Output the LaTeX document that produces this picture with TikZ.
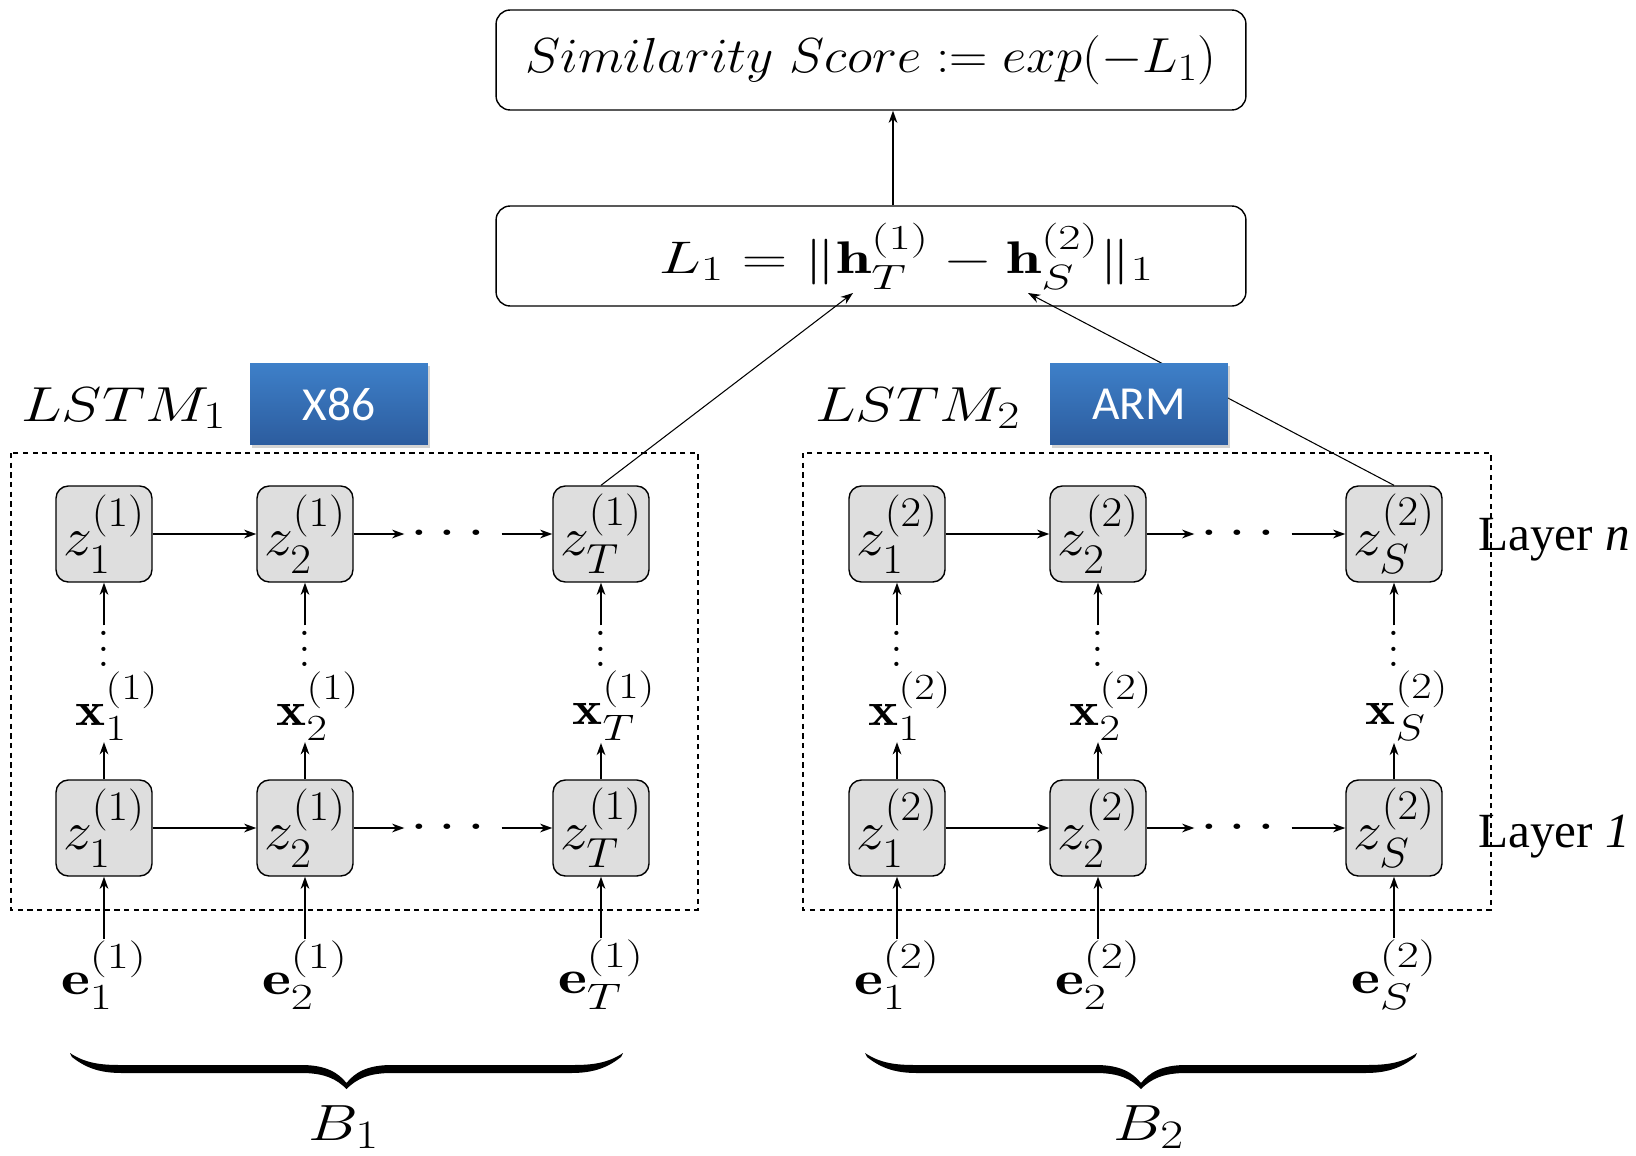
\documentclass[tikz,border=0pt]{standalone}
\usepackage{fix-cm}
\usepackage{amsmath}
\usepackage{amssymb}
\usepackage{graphicx}
\usepackage{fontspec}
\usepackage{xcolor}
\usetikzlibrary{arrows.meta,calc,positioning,shadows}
\newfontfamily\archfont{Carlito}
\newfontfamily\layerfont{Liberation Serif}
\DeclareMathSizes{31}{31}{24}{19}
\DeclareMathSizes{29}{29}{23}{18}
\DeclareMathSizes{28}{28}{22}{17}
\DeclareMathSizes{27}{27}{21}{16}
\DeclareMathSizes{26}{26}{20}{15}
\newcommand{\wide}[2][1.25]{\scalebox{#1}[1]{#2}}
\newcommand{\coldots}{\vbox{\baselineskip=9pt\hbox{.}\hbox{.}\hbox{.}}}
% filled brace from x=#1 to x=#2, ends at height #3
\newcommand{\batchbrace}[3]{%
	\pgfmathsetmacro{\bm}{(#1+#2)/2}
	\fill (#1,#3) .. controls ({#1+15},{#3+10}) and ({#1+30},{#3+12}) .. ({#1+50},{#3+12})
		-- ({\bm-45},{#3+12}) .. controls ({\bm-20},{#3+12}) and ({\bm-8},{#3+20}) .. (\bm,{#3+30})
		.. controls ({\bm+8},{#3+20}) and ({\bm+20},{#3+12}) .. ({\bm+45},{#3+12})
		-- ({#2-50},{#3+12}) .. controls ({#2-30},{#3+12}) and ({#2-15},{#3+10}) .. (#2,#3)
		-- ({#2-2},{#3+4}) .. controls ({#2-17},{#3+16}) and ({#2-32},{#3+20}) .. ({#2-52},{#3+20})
		-- ({\bm+45},{#3+20}) .. controls ({\bm+22},{#3+20}) and ({\bm+10},{#3+26}) .. (\bm,{#3+36})
		.. controls ({\bm-10},{#3+26}) and ({\bm-22},{#3+20}) .. ({\bm-45},{#3+20})
		-- ({#1+52},{#3+20}) .. controls ({#1+32},{#3+20}) and ({#1+17},{#3+16}) .. ({#1+2},{#3+4}) -- cycle;}
\definecolor{cellgray}{RGB}{222,222,222}
\definecolor{archtop}{RGB}{62,128,201}
\definecolor{archbottom}{RGB}{44,92,158}
\tikzset{%
	cell/.style    = {draw, rounded corners=7pt, fill=cellgray, minimum width=1.92cm, minimum height=1.92cm, inner sep=0pt, line width=0.8pt, font=\fontsize{31}{37}\selectfont},
	lossbox/.style = {draw, rounded corners=8pt, minimum width=15cm, minimum height=2cm, line width=0.8pt},
	archbox/.style = {top color=archtop, bottom color=archbottom, minimum width=3.56cm, minimum height=1.64cm, text=white, font=\archfont\fontsize{27}{32}\selectfont, drop shadow={opacity=0.35,shadow xshift=1pt,shadow yshift=-1.5pt}},
	arrow/.style   = {line width=0.8pt,-{Stealth[length=7pt,width=5pt]}},
	link/.style    = {line width=0.6pt,-{Stealth[length=7pt,width=5pt]}},
	frame/.style   = {dashed, line width=0.8pt, dash pattern=on 3pt off 2.5pt},
	vec/.style     = {inner sep=1pt, font=\fontsize{27}{32}\selectfont},
	netname/.style = {anchor=base west, inner sep=0pt, font=\fontsize{28}{33}\selectfont},
	layer/.style   = {anchor=base west, inner sep=0pt, font=\layerfont\fontsize{28}{33}\selectfont},
}

\begin{document}
\begin{tikzpicture}[x=0.02cm, y=-0.02cm, font=\fontsize{29}{34}\selectfont]
	\useasboundingbox (0,0) rectangle (1636,1156);
	
	% loss and score
	\node[lossbox, font=\fontsize{28}{33}\selectfont] (score) at (871,60) {\wide[1.08]{$Similarity\ Score := exp(-L_1)$}};
	\node[lossbox, font=\fontsize{26}{31}\selectfont] (loss) at (871,256) {\hspace*{1.42cm}\wide[1.38]{$L_1 = \|\mathbf{h}_T^{(1)} - \mathbf{h}_S^{(2)}\|_1$}};
	\draw[arrow] ([xshift=0.44cm]loss.north) -- ([xshift=0.44cm]score.south);
	\coordinate (hT) at (853,293);
	\coordinate (hS) at (1028,293);
	
	% first network
	\draw[frame] (11,453) rectangle (698,910);
	\node[netname] (lstm1) at (21,421) {\wide[1.24]{$LSTM_1$}};
	\foreach \c/\x/\s in {1/104/1,2/305/2,3/601/T} {
		\node[cell] (top1\c) at (\x,534) {\wide[1.06]{$z_{\s}^{(1)}$}};
		\node[cell] (bot1\c) at (\x,828) {\wide[1.06]{$z_{\s}^{(1)}$}};
		\node[inner sep=0pt] (vd1\c) at (\x,649) {\coldots};
		\node[vec] (x1\c) at (\x+13,706) {\wide[1.2]{$\mathbf{x}_{\s}^{(1)}$}};
		\node[vec] (e1\c) at (\x,975) {\wide[1.3]{$\mathbf{e}_{\s}^{(1)}$}};
		\draw[arrow] (bot1\c) -- (bot1\c.north |- x1\c.south);
		\draw[arrow] ([yshift=3pt]vd1\c.north) -- (top1\c);
		\draw[arrow] (e1\c) -- (bot1\c);
	}
	\node (dt1) at (453,534) {\wide{$\cdots$}};
	\node (db1) at (453,828) {\wide{$\cdots$}};
	\draw[arrow] (top11) -- (top12);
	\draw[arrow] (top12) -- (dt1);
	\draw[arrow] (dt1) -- (top13);
	\draw[arrow] (bot11) -- (bot12);
	\draw[arrow] (bot12) -- (db1);
	\draw[arrow] (db1) -- (bot13);
	
	% second network
	\draw[frame] (803,453) rectangle (1491,910);
	\node[netname] (lstm2) at (815,421) {\wide[1.24]{$LSTM_2$}};
	\foreach \c/\x/\s in {1/897/1,2/1098/2,3/1394/S} {
		\node[cell] (top2\c) at (\x,534) {\wide[1.06]{$z_{\s}^{(2)}$}};
		\node[cell] (bot2\c) at (\x,828) {\wide[1.06]{$z_{\s}^{(2)}$}};
		\node[inner sep=0pt] (vd2\c) at (\x,649) {\coldots};
		\node[vec] (x2\c) at (\x+13,706) {\wide[1.2]{$\mathbf{x}_{\s}^{(2)}$}};
		\node[vec] (e2\c) at (\x,975) {\wide[1.3]{$\mathbf{e}_{\s}^{(2)}$}};
		\draw[arrow] (bot2\c) -- (bot2\c.north |- x2\c.south);
		\draw[arrow] ([yshift=3pt]vd2\c.north) -- (top2\c);
		\draw[arrow] (e2\c) -- (bot2\c);
	}
	\node (dt2) at (1243,534) {\wide{$\cdots$}};
	\node (db2) at (1243,828) {\wide{$\cdots$}};
	\draw[arrow] (top21) -- (top22);
	\draw[arrow] (top22) -- (dt2);
	\draw[arrow] (dt2) -- (top23);
	\draw[arrow] (bot21) -- (bot22);
	\draw[arrow] (bot22) -- (db2);
	\draw[arrow] (db2) -- (bot23);
	
	% last states to the loss
	\draw[link] (top13.north) -- (hT);
	\draw[link] (top23.north) -- (hS);
	\node[archbox] (x86) at (339,404) {X86};
	\node[archbox] (arm) at (1139,404) {ARM};
	
	\node[layer] (layern) at (1478,550) {Layer \textit{n}};
	\node[layer] (layer1) at (1478,847) {Layer \textit{1}};
	
	% batches
	\batchbrace{70}{623}{1053}
	\batchbrace{865}{1417}{1053}
	\node (b1) at (344,1127) {\wide[1.23]{$B_1$}};
	\node (b2) at (1149,1127) {\wide[1.23]{$B_2$}};
\end{tikzpicture}
\end{document}
